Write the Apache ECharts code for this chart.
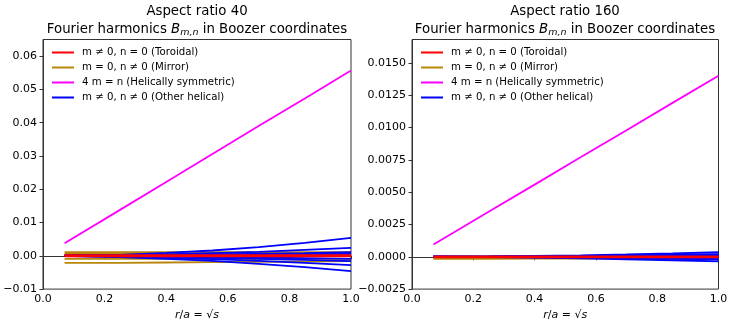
<!DOCTYPE html>
<html>
<head>
<meta charset="utf-8">
<script src="https://cdn.jsdelivr.net/npm/echarts@6/dist/echarts.min.js"></script>
<style>html,body{margin:0;padding:0;background:#fff}#c{width:734px;height:326px}</style>
</head>
<body>
<div id="c"></div>
<script>
// ---- data ----
const rSample = [0.07, 0.25, 0.4, 0.55, 0.7, 0.85, 1.0];
const xTicks = [0, 0.2, 0.4, 0.6, 0.8, 1.0];
const yTicksA40 = [-0.01, 0, 0.01, 0.02, 0.03, 0.04, 0.05, 0.06];
const yTicksA160 = [-0.0025, 0, 0.0025, 0.005, 0.0075, 0.01, 0.0125, 0.015];
const titlesTop = ['Aspect ratio 40', 'Aspect ratio 160'];
const legendNames = ['m \u2260 0, n = 0 (Toroidal)', 'm = 0, n \u2260 0 (Mirror)', '4 m = n (Helically symmetric)', 'm \u2260 0, n \u2260 0 (Other helical)'];

// Aspect ratio 40
const toroidalA40 = [
  [0.00015, 0.00015, 0.00015, 0.00015, 0.00015, 0.00015, 0.00015],
  [-0.00015, -0.00015, -0.00015, -0.00015, -0.00015, -0.00015, -0.00015]
];
const mirrorA40 = [
  [0.0011, 0.0011, 0.0011, 0.0011, 0.0011, 0.0011, 0.0011],
  [0.0006, 0.0006, 0.0006, 0.0006, 0.0006, 0.0006, 0.0006],
  [-0.0009, -0.0009, -0.0009, -0.0009, -0.0009, -0.0009, -0.0009],
  [-0.0021, -0.0021, -0.0020, -0.0019, -0.0018, -0.0017, -0.0016]
];
const helicalSymA40 = [0.0038, 0.0138, 0.0222, 0.0306, 0.0390, 0.0473, 0.0557];
const otherHelicalA40 = [
  [0.0000, 0.0003, 0.0009, 0.0016, 0.0026, 0.0039, 0.0054],
  [0.0000, 0.0002, 0.0004, 0.0008, 0.0012, 0.0018, 0.0024],
  [0.0001, 0.0001, 0.0002, 0.0004, 0.0006, 0.0008, 0.0011],
  [0.0002, 0.0002, 0.0002, 0.0003, 0.0004, 0.0005, 0.0006],
  [0.0000, 0.0000, 0.0000, 0.0000, -0.0001, -0.0001, -0.0001],
  [-0.0001, -0.0001, -0.0002, -0.0003, -0.0005, -0.0007, -0.0009],
  [0.0000, -0.0002, -0.0004, -0.0006, -0.0009, -0.0012, -0.0016],
  [-0.0001, -0.0003, -0.0006, -0.0010, -0.0015, -0.0021, -0.0028],
  [0.0000, -0.0004, -0.0009, -0.0015, -0.0024, -0.0034, -0.0046]
];

// Aspect ratio 160
const toroidalA160 = [
  [0.00003, 0.00003, 0.00003, 0.00003, 0.00003, 0.00003, 0.00003],
  [-0.00003, -0.00003, -0.00003, -0.00003, -0.00003, -0.00003, -0.00003]
];
const mirrorA160 = [
  [-0.00008, -0.00008, -0.00008, -0.00008, -0.00008, -0.00008, -0.00008],
  [-0.00016, -0.00016, -0.00015, -0.00014, -0.00013, -0.00012, -0.00011]
];
const helicalSymA160 = [0.00095, 0.00348, 0.00558, 0.00769, 0.00979, 0.0119, 0.0140];
const otherHelicalA160 = [
  [0.0000, 0.00002, 0.00006, 0.00011, 0.00018, 0.00026, 0.00035],
  [0.0000, 0.00001, 0.00004, 0.00007, 0.00011, 0.00016, 0.00021],
  [0.0000, 0.00001, 0.00002, 0.00004, 0.00006, 0.00008, 0.00010],
  [0.0000, 0.0000, 0.0000, 0.0000, 0.0000, 0.0000, 0.0000],
  [0.0000, -0.00001, -0.00002, -0.00004, -0.00006, -0.00008, -0.00011],
  [0.0000, -0.00001, -0.00004, -0.00007, -0.00011, -0.00016, -0.00021],
  [0.0000, -0.00003, -0.00007, -0.00012, -0.00019, -0.00027, -0.00036]
];

// ---- chart ----
const FONT = 'DejaVu Sans';
const COLORS = { tor: '#ff0000', mir: '#b8860b', sym: '#ff00ff', oth: '#0000ff' };
const minus = s => s.replace('-', '\u2212');

function pts(vals) { return rSample.map((r, i) => [r, vals[i]]); }
function line(name, vals, color, idx, z, w) {
  return {
    type: 'line', name: name, data: pts(vals), xAxisIndex: idx, yAxisIndex: idx,
    showSymbol: false, symbol: 'none', color: color, z: z,
    lineStyle: { color: color, width: w || 1.8 }, emphasis: { disabled: true }
  };
}
function group(idx, tor, mir, sym, oth) {
  const out = [];
  mir.forEach(v => out.push(line(legendNames[1], v, COLORS.mir, idx, 1)));
  oth.forEach(v => out.push(line(legendNames[3], v, COLORS.oth, idx, 2)));
  tor.forEach(v => out.push(line(legendNames[0], v, COLORS.tor, idx, 3, 2)));
  out.push(line(legendNames[2], sym, COLORS.sym, idx, 4));
  return out;
}

const grids = [
  { left: 43, top: 39.5, width: 308, height: 250, show: true, borderColor: '#333', borderWidth: 1, backgroundColor: 'transparent' },
  { left: 412, top: 39.5, width: 306.5, height: 250, show: true, borderColor: '#333', borderWidth: 1, backgroundColor: 'transparent' }
];

function xAxis(idx) {
  return {
    type: 'value', gridIndex: idx, min: 0, max: 1, interval: 0.2,
    axisLine: { show: true, lineStyle: { color: '#333', width: 1 } },
    axisTick: { show: true, length: 3.5, inside: false, lineStyle: { color: '#333' } },
    axisLabel: { color: '#000', fontFamily: FONT, fontSize: 11, margin: 5, formatter: v => v.toFixed(1) },
    splitLine: { show: false },
    name: '{i|r}/{i|a} = \u221A{i|s}', nameLocation: 'middle', nameGap: 19,
    nameTextStyle: { color: '#000', fontFamily: FONT, fontSize: 11,
      rich: { i: { fontStyle: 'italic', fontFamily: FONT, fontSize: 11, color: '#000' } } }
  };
}
function yAxis(idx, min, max, ticks, dec) {
  return {
    type: 'value', gridIndex: idx, min: min, max: max,
    axisLine: { show: true, lineStyle: { color: '#333', width: 1 } },
    axisTick: { show: true, length: 3.5, customValues: ticks, lineStyle: { color: '#333' } },
    axisLabel: { color: '#000', fontFamily: FONT, fontSize: 11, margin: 6, customValues: ticks,
      formatter: v => minus((Math.abs(v) < 1e-12 ? 0 : v).toFixed(dec)) },
    splitLine: { show: false }
  };
}

function titles(cx, top) {
  const fs = 13.3;
  const ts = { color: '#000', fontFamily: FONT, fontSize: fs, fontWeight: 'normal' };
  return [
    { text: top, left: cx, top: 5, textAlign: 'center', textStyle: ts, padding: 0 },
    { text: 'Fourier harmonics {i|B}{s|m,n} in Boozer coordinates', left: cx, top: 21, textAlign: 'center', padding: 0,
      textStyle: Object.assign({}, ts, { rich: {
        i: { fontStyle: 'italic', fontFamily: FONT, fontSize: fs, color: '#000' },
        s: { fontStyle: 'italic', fontFamily: FONT, fontSize: 9.5, color: '#000', padding: [7, 0, 0, 0] }
      } }) }
  ];
}

function legend(x) {
  return {
    orient: 'vertical', left: x, top: 45, itemWidth: 22, itemHeight: 2, itemGap: 0, icon: 'rect',
    padding: 0, selectedMode: false,
    data: legendNames,
    textStyle: { color: '#000', fontFamily: FONT, fontSize: 10.2, lineHeight: 15, padding: [0, 0, 0, 3] }
  };
}

const chart = echarts.init(document.getElementById('c'), null, { renderer: 'canvas' });
chart.setOption({
  animation: false,
  backgroundColor: '#fff',
  title: titles(197, titlesTop[0]).concat(titles(565, titlesTop[1])),
  legend: [legend(52), legend(421)],
  grid: grids,
  xAxis: [xAxis(0), xAxis(1)],
  yAxis: [yAxis(0, -0.01, 0.065, yTicksA40, 2), yAxis(1, -0.0025, 0.0168, yTicksA160, 4)],
  series: group(0, toroidalA40, mirrorA40, helicalSymA40, otherHelicalA40)
    .concat(group(1, toroidalA160, mirrorA160, helicalSymA160, otherHelicalA160))
});
</script>
</body>
</html>
